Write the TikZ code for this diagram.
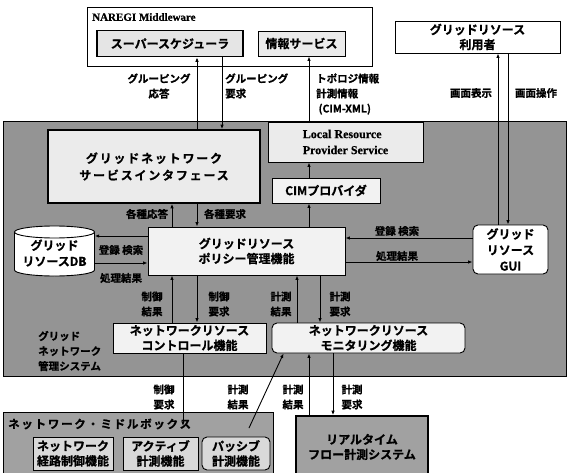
\documentclass[tikz,border=0pt]{standalone}
\usepackage{fontspec}
\setmainfont{Noto Sans CJK JP}[BoldFont={Noto Sans CJK JP Bold},BoldFeatures={FakeBold=0.8}]
\newfontfamily\jpw{Noto Sans CJK JP}[BoldFont={Noto Sans CJK JP Bold},BoldFeatures={FakeBold=0.8},LetterSpace=15]
\newfontfamily\lat{Liberation Serif}[BoldFeatures={FakeBold=0.6}]
\usetikzlibrary{arrows.meta,calc}
\begin{document}
\begin{tikzpicture}[x=1pt,y=-1pt,
  box/.style={draw, line width=0.9pt, inner sep=0pt, align=center,
    font=\bfseries\fontsize{12}{15}\selectfont},
  thickbox/.style={box, line width=1.6pt},
  lab/.style={align=center, inner sep=0pt,
    font=\bfseries\fontsize{10.5}{15}\selectfont},
  arr/.style={line width=0.9pt, -{Latex[length=4.5pt,width=3.5pt]}}]
\useasboundingbox (0,0) rectangle (572,473);
% background regions
\fill[black!42] (3,121) rectangle (566,376);
\draw[line width=0.8pt] (3,121) rectangle (566,376);
\fill[black!37] (3,412) rectangle (273,478);
\draw[line width=0.8pt] (3,412) rectangle (273,478);
% top boxes
\node[box, fill=white, minimum width=285, minimum height=59] (naregi) at (229.5,36.5) {};
\node[anchor=west, inner sep=0pt, font=\lat\bfseries\fontsize{11}{13}\selectfont] (naregit) at (92,17) {NAREGI Middleware};
\node[thickbox, fill=black!10, minimum width=146, minimum height=26] (sched) at (170,43.5) {スーパースケジューラ};
\node[box, fill=black!8, minimum width=87, minimum height=25] (info) at (301.5,43.5) {情報サービス};
\node[box, fill=white, minimum width=165, minimum height=32] (user) at (477.5,37) {グリッドリソース\\利用者};
% gray region boxes
\node[thickbox, fill=black!8, minimum width=212, minimum height=73, font=\jpw\bfseries\fontsize{12}{17}\selectfont] (gnsi) at (154,166.5) {グリッドネットワーク\\サービスインタフェース};
\node[box, fill=black!8, minimum width=155, minimum height=40, align=left, font=\lat\bfseries\fontsize{12}{16}\selectfont] (lrps) at (345.5,142) {Local Resource\\Provider Service};
\node[box, fill=black!5, minimum width=108, minimum height=25] (cim) at (326,190.5) {CIMプロバイダ};
\node[box, fill=black!5, minimum width=197, minimum height=48] (policy) at (246.5,251) {グリッドリソース\\ポリシー管理機能};
\node[box, fill=white, rounded corners=5pt, minimum width=75, minimum height=49, font=\bfseries\fontsize{12}{16}\selectfont] (gui) at (510.5,249.5) {グリッド\\リソース\\GUI};
\node[box, fill=black!5, minimum width=153, minimum height=30] (ctrl) at (189.5,338) {ネットワークリソース\\コントロール機能};
\node[box, fill=black!5, rounded corners=5pt, minimum width=193, minimum height=30] (mon) at (368.5,338) {ネットワークリソース\\モニタリング機能};
% database cylinder
\draw[line width=0.9pt, fill=white] (14.5,232) -- (14.5,270) arc[start angle=180, end angle=360, x radius=40pt, y radius=6pt] -- (94.5,232);
\draw[line width=0.9pt, fill=white] (54.5,232) ellipse [x radius=40pt, y radius=6pt];
\node[lab, font=\bfseries\fontsize{12}{16}\selectfont, minimum width=80, minimum height=50] (db) at (54.5,253) {グリッド\\リソースDB};
% middlebox
\node[lab, anchor=west, font=\jpw\bfseries\fontsize{11.5}{14}\selectfont] (mbt) at (8,424) {ネットワーク・ミドルボックス};
\node[box, fill=black!15, minimum width=80, minimum height=33] (mb1) at (73,453.5) {ネットワーク\\経路制御機能};
\node[box, fill=black!15, minimum width=75, minimum height=33] (mb2) at (160.5,453.5) {アクティブ\\計測機能};
\node[box, fill=black!15, rounded corners=5pt, minimum width=68, minimum height=33] (mb3) at (236,453.5) {パッシブ\\計測機能};
\node[thickbox, fill=black!37, minimum width=132, minimum height=62] (rt) at (362,447) {リアルタイム\\フロー計測システム};
% helper coordinates
\coordinate (x172) at (172,0); \coordinate (x197) at (197,0);
\coordinate (x222) at (222,0); \coordinate (x297) at (297,0);
\coordinate (x309) at (309,0); \coordinate (x320) at (320,0);
\coordinate (x333) at (333,0); \coordinate (x498) at (498,0);
\coordinate (x508) at (508,0); \coordinate (x183) at (183,0);
\coordinate (y236) at (0,236); \coordinate (y263) at (0,263);
\coordinate (y238) at (0,238); \coordinate (y262) at (0,262);
\coordinate (mbin) at (183,426);
\coordinate (mbdiag) at (249,428);
% connectors
\draw[arr] (gnsi.north -| x197) -- (sched.south -| x197);
\draw[arr] (sched.south -| x222) -- (gnsi.north -| x222);
\draw[arr] (lrps.north -| x309) -- (info.south -| x309);
\draw[arr] (cim.north -| x309) -- (lrps.south -| x309);
\draw[arr] (policy.north -| x309) -- (cim.south -| x309);
\draw[arr] (policy.north -| x172) -- (gnsi.south -| x172);
\draw[arr] (gnsi.south -| x197) -- (policy.north -| x197);
\draw[arr] (policy.west |- y236) -- (db.east |- y236);
\draw[arr] (db.east |- y263) -- (policy.west |- y263);
\draw[arr] (gui.west |- y238) -- (policy.east |- y238);
\draw[arr] (policy.east |- y262) -- (gui.west |- y262);
\draw[arr] (gui.north -| x498) -- (user.south -| x498);
\draw[arr] (user.south -| x508) -- (gui.north -| x508);
\draw[arr] (ctrl.north -| x172) -- (policy.south -| x172);
\draw[arr] (policy.south -| x197) -- (ctrl.north -| x197);
\draw[arr] (mon.north -| x297) -- (policy.south -| x297);
\draw[arr] (policy.south -| x320) -- (mon.north -| x320);
\draw[arr] (ctrl.south -| mbin) -- (mbin);
\draw[arr] (mbdiag) -- ($(mon.south west)+(12,0)$);
\draw[arr] (rt.north -| x309) -- (mon.south -| x309);
\draw[arr] (mon.south -| x333) -- (rt.north -| x333);
% labels
\node[lab] (l1) at (159,86) {グルーピング\\応答};
\node[lab, anchor=west, align=left] (l2) at (225,86) {グルーピング\\要求};
\node[lab, anchor=west, align=left] (l3) at (316,94) {トポロジ情報\\計測情報\\\ (CIM-XML)};
\node[lab] (l4) at (471,93) {画面表示};
\node[lab] (l5) at (536,93) {画面操作};
\node[lab] (l6) at (147,214) {各種応答};
\node[lab] (l7) at (225,214) {各種要求};
\node[lab] (l8) at (121,250) {登録 検索};
\node[lab] (l9) at (121,278) {処理結果};
\node[lab] (l10) at (397,231) {登録 検索};
\node[lab] (l11) at (397,256) {処理結果};
\node[lab] (l12) at (152,304) {制御\\結果};
\node[lab] (l13) at (219,304) {制御\\要求};
\node[lab] (l14) at (281,304) {計測\\結果};
\node[lab] (l15) at (340,304) {計測\\要求};
\node[lab, align=left, anchor=west] (l16) at (38,351) {グリッド\\ネットワーク\\管理システム};
\node[lab] (l17) at (164,397) {制御\\要求};
\node[lab] (l18) at (238,397) {計測\\結果};
\node[lab] (l19) at (293,397) {計測\\結果};
\node[lab] (l20) at (352,397) {計測\\要求};
\end{tikzpicture}
\end{document}
